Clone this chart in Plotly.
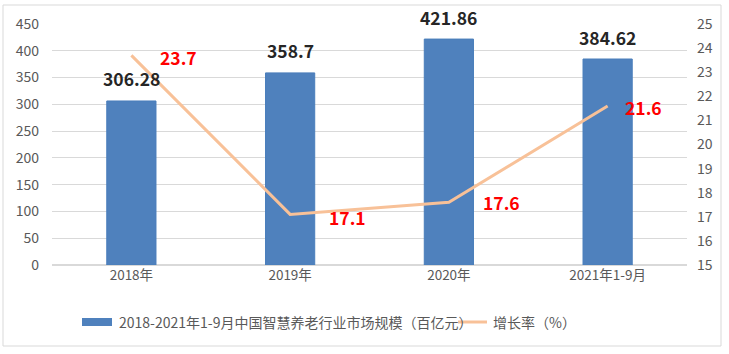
import plotly.graph_objects as go

categories = ["2018年", "2019年", "2020年", "2021年1-9月"]
market_size = [306.28, 358.7, 421.86, 384.62]
growth_rate = [23.7, 17.1, 17.6, 21.6]
bar_name = "2018-2021年1-9月中国智慧养老行业市场规模（百亿元）"
line_name = "增长率（%）"

FONT = "Noto Sans CJK SC"
BAR_COLOR = "#4F81BD"
LINE_COLOR = "#F8C198"

W_PLOT, H_PLOT = 635, 241
L, T = 52, 24

# label placement styles (pixel shifts)
rate_xshift = [47, 57, 53, 36]
rate_yshift = [-2, -3, 0, -2]


def px(x):
    return (x - L) / W_PLOT


def py(y):
    return (T + H_PLOT - y) / H_PLOT


fig = go.Figure()
fig.add_trace(go.Bar(
    x=categories, y=market_size, name=bar_name,
    marker=dict(color=BAR_COLOR, line=dict(color="#4A7EBB", width=1)),
    width=0.31,
))
fig.add_trace(go.Scatter(
    x=categories, y=growth_rate, name=line_name, yaxis="y2",
    mode="lines", line=dict(color=LINE_COLOR, width=3),
))

for c, v in zip(categories, market_size):
    fig.add_annotation(x=c, y=v, xref="x", yref="y", text=f"<b>{v}</b>",
                       showarrow=False, yshift=22,
                       font=dict(family=FONT, size=17.5, color="#262626"))
for c, v, dx, dy in zip(categories, growth_rate, rate_xshift, rate_yshift):
    fig.add_annotation(x=c, y=v, xref="x", yref="y2", text=f"<b>{v}</b>",
                       showarrow=False, xshift=dx, yshift=dy,
                       font=dict(family=FONT, size=17.5, color="#FF0000"))

# manual legend (wide bar swatch like the reference)
fig.add_annotation(x=px(117), y=py(322), xref="paper", yref="paper", text=bar_name,
                   showarrow=False, xanchor="left", yanchor="middle",
                   font=dict(family=FONT, size=14, color="#595959"))
fig.add_annotation(x=px(491), y=py(322), xref="paper", yref="paper", text=line_name,
                   showarrow=False, xanchor="left", yanchor="middle",
                   font=dict(family=FONT, size=14, color="#595959"))

shapes = [
    dict(type="rect", xref="paper", yref="paper",
         x0=-49 / W_PLOT, x1=1 + 34 / W_PLOT, y0=py(346), y1=py(5),
         line=dict(color="#D9D9D9", width=1), layer="below"),
    dict(type="rect", xref="paper", yref="paper",
         x0=px(82), x1=px(112), y0=py(326), y1=py(318),
         fillcolor=BAR_COLOR, line=dict(width=0)),
    dict(type="line", xref="paper", yref="paper",
         x0=px(458), x1=px(487), y0=py(322), y1=py(322),
         line=dict(color=LINE_COLOR, width=3)),
]

fig.update_layout(
    width=729, height=354,
    margin=dict(l=L, r=729 - L - W_PLOT, t=T, b=354 - T - H_PLOT),
    paper_bgcolor="white", plot_bgcolor="white",
    font=dict(family=FONT, size=14, color="#595959"),
    showlegend=False,
    xaxis=dict(showgrid=False, showline=False, ticks="", tickfont=dict(size=13.5)),
    yaxis=dict(range=[0, 450], dtick=50, showgrid=True, gridcolor="#D9D9D9",
               gridwidth=1, zeroline=True, zerolinecolor="#D9D9D9", ticks="",
               ticklabelstandoff=12),
    yaxis2=dict(range=[15, 25], dtick=1, overlaying="y", side="right",
                showgrid=False, zeroline=False, ticks="", ticklabelstandoff=9),
    bargap=0.69,
    shapes=shapes,
)

fig.write_html("out.html")
